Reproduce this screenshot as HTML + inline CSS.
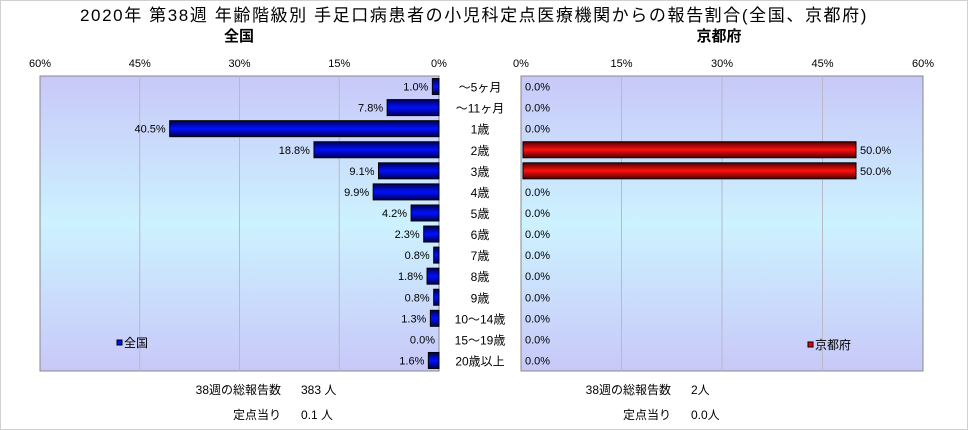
<!DOCTYPE html>
<html><head><meta charset="utf-8"><style>
body{margin:0;background:#fff;font-family:"Liberation Sans","Noto Sans CJK JP",sans-serif;}
#wrap{position:relative;width:966px;height:428px;border:1px solid #d0d0d0;overflow:hidden;}
svg text{font-family:"Liberation Sans","Noto Sans CJK JP",sans-serif;}
</style></head><body>
<div id="wrap">
<svg id="c" width="966" height="428" xmlns="http://www.w3.org/2000/svg">
<defs>
<linearGradient id="bg" x1="0" y1="0" x2="0" y2="1">
<stop offset="0" stop-color="#c8c8f8"/><stop offset="0.5" stop-color="#ccf2ff"/><stop offset="1" stop-color="#c8c8f8"/>
</linearGradient>
<linearGradient id="gb" x1="0" y1="0" x2="0" y2="1">
<stop offset="0" stop-color="#000050"/><stop offset="0.5" stop-color="#0010ff"/><stop offset="1" stop-color="#000050"/>
</linearGradient>
<linearGradient id="gr" x1="0" y1="0" x2="0" y2="1">
<stop offset="0" stop-color="#500000"/><stop offset="0.5" stop-color="#ff1010"/><stop offset="1" stop-color="#500000"/>
</linearGradient>
</defs>
<text x="473" y="20" font-size="17" letter-spacing="1.6" text-anchor="middle">2020年 第38週 年齢階級別 手足口病患者の小児科定点医療機関からの報告割合(全国、京都府)</text>
<text x="238" y="40" font-size="15" font-weight="bold" text-anchor="middle">全国</text>
<text x="718" y="40" font-size="15" font-weight="bold" text-anchor="middle">京都府</text>
<g id="g"></g>
<text x="280" y="393" font-size="12" text-anchor="end">38週の総報告数</text>
<text x="300" y="393" font-size="12">383 人</text>
<text x="280" y="418" font-size="12" text-anchor="end">定点当り</text>
<text x="300" y="418" font-size="12">0.1 人</text>
<text x="670" y="393" font-size="12" text-anchor="end">38週の総報告数</text>
<text x="690" y="393" font-size="12">2人</text>
<text x="670" y="418" font-size="12" text-anchor="end">定点当り</text>
<text x="690" y="418" font-size="12">0.0人</text>
</svg></div>
<script>
const categories=["～5ヶ月","～11ヶ月","1歳","2歳","3歳","4歳","5歳","6歳","7歳","8歳","9歳","10～14歳","15～19歳","20歳以上"];
const nationalValues=[1.0,7.8,40.5,18.8,9.1,9.9,4.2,2.3,0.8,1.8,0.8,1.3,0.0,1.6];
const kyotoValues=[0,0,0,50.0,50.0,0,0,0,0,0,0,0,0,0];
const tickValues=[0,15,30,45,60];
const tickLabels=["0%","15%","30%","45%","60%"];
const NS="http://www.w3.org/2000/svg";
const g=document.getElementById('g');
const top0=75,bot0=370,rowH=(bot0-top0)/categories.length;
const L0=438,Lmax=39,R0=520,Rmax=922;
const xL=v=>L0-(v/60)*(L0-Lmax);
const xR=v=>R0+(v/60)*(Rmax-R0);
const yC=i=>top0+rowH*(i+0.5);
function el(t,a,txt){const e=document.createElementNS(NS,t);for(const k in a)e.setAttribute(k,a[k]);if(txt!=null)e.textContent=txt;g.appendChild(e);return e;}
let e;
e=el('rect',{x:Lmax,y:top0,width:L0-Lmax,height:bot0-top0,fill:'url(#bg)',stroke:'#888'});


e=el('rect',{x:R0,y:top0,width:Rmax-R0,height:bot0-top0,fill:'url(#bg)',stroke:'#888'});


tickValues.forEach((v,i)=>{
 if(v>0&&v<60){
  e=el('line',{x1:xL(v),x2:xL(v),y1:top0,y2:bot0,stroke:'#b8b8c8'});
  
  
  e=el('line',{x1:xR(v),x2:xR(v),y1:top0,y2:bot0,stroke:'#b8b8c8'});
  
  
 }
 e=el('text',{x:xL(v),y:66,'font-size':11,'text-anchor':'middle'},tickLabels[i]);
 
 
 e=el('text',{x:xR(v),y:66,'font-size':11,'text-anchor':'middle'},tickLabels[i]);
 
 
});
const bh=16;
categories.forEach((c,i)=>{
 const y=yC(i);
 e=el('text',{x:479,y:y+5,'font-size':12,'text-anchor':'middle'},c);
 
 
 const v=nationalValues[i];
 if(v>0){
  e=el('rect',{x:xL(v),y:y-bh/2,width:L0-xL(v),height:bh,fill:'url(#gb)',stroke:'#000'});
  
  
 }
 e=el('text',{x:xL(v)-4,y:y+4,'font-size':11,'text-anchor':'end'},v.toFixed(1)+'%');
 
 
 const k=kyotoValues[i];
 if(k>0){
  e=el('rect',{x:R0+2,y:y-bh/2,width:xR(k)-R0-2,height:bh,fill:'url(#gr)',stroke:'#000'});
  
  
 }
 e=el('text',{x:(k>0?xR(k):R0)+4,y:y+4,'font-size':11},k.toFixed(1)+'%');
 
 
});
e=el('rect',{x:116,y:339,width:5,height:5,fill:'#0010ff',stroke:'#000'});


e=el('text',{x:123,y:346,'font-size':12},'全国');


e=el('rect',{x:807,y:341,width:5,height:5,fill:'#ee0000',stroke:'#000'});


e=el('text',{x:814,y:348,'font-size':12},'京都府');


</script>
</body></html>
